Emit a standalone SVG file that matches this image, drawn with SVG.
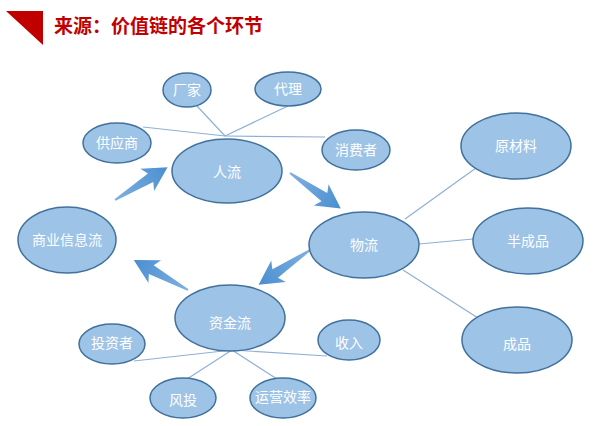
<svg xmlns="http://www.w3.org/2000/svg" xmlns:xlink="http://www.w3.org/1999/xlink" width="599" height="426" viewBox="0 0 599 426">
<style>
.n ellipse{fill:#9dc3e6;stroke:#41719c;stroke-width:1.5}
.n text{fill:#fff;font-family:"Noto Sans CJK SC","Noto Sans",sans-serif;font-size:14px;text-anchor:middle;dominant-baseline:central}
.c line{stroke:#8fb0d6;stroke-width:1.2}
.arr{fill:url(#g)}
.title{fill:#c00000;font-family:"Noto Sans CJK SC",sans-serif;font-size:19px;font-weight:bold}
</style>
<defs>
<linearGradient id="g" x1="0" y1="0" x2="1" y2="0">
<stop offset="0" stop-color="#7fb0e0"/>
<stop offset="1" stop-color="#4a8fd0"/>
</linearGradient>
<path id="ar" d="M0,-1 L42,-5 L38,-13 L62,0 L38,13 L42,5 L0,1 Z"/>
</defs>
<rect width="599" height="426" fill="#fff"/>
<polygon points="6,11 43,11 43,45" fill="#c00000"/>
<text class="title" x="54" y="33">来源：价值链的各个环节</text>
<g id="connectors" class="c">
<line x1="225" y1="136" x2="197" y2="106"/>
<line x1="225" y1="136" x2="288" y2="106"/>
<line x1="225" y1="136" x2="143" y2="127"/>
<line x1="225" y1="136" x2="325" y2="137"/>
<line x1="405" y1="219" x2="476" y2="168"/>
<line x1="419" y1="244" x2="473" y2="239"/>
<line x1="403" y1="270" x2="478" y2="318"/>
<line x1="232" y1="350" x2="134" y2="361"/>
<line x1="232" y1="350" x2="327" y2="356"/>
<line x1="232" y1="350" x2="187" y2="379"/>
<line x1="232" y1="350" x2="277" y2="379"/>
<use class="arr" xlink:href="#ar" transform="translate(115,200) rotate(-32)"/>
<use class="arr" xlink:href="#ar" transform="translate(290,173) rotate(35)"/>
<use class="arr" xlink:href="#ar" transform="translate(310,250) rotate(146)"/>
<use class="arr" xlink:href="#ar" transform="translate(188,290) rotate(209)"/>
</g>
<g id="renliu" class="n"><ellipse cx="227" cy="171" rx="55" ry="32"/><text x="227" y="171">人流</text></g>
<g id="changjia" class="n"><ellipse cx="187" cy="90" rx="24" ry="17"/><text x="187" y="89">厂家</text></g>
<g id="daili" class="n"><ellipse cx="288" cy="89" rx="33" ry="17"/><text x="288" y="88">代理</text></g>
<g id="gongyingshang" class="n"><ellipse cx="117" cy="143" rx="34" ry="20"/><text x="117" y="142">供应商</text></g>
<g id="xiaofeizhe" class="n"><ellipse cx="356" cy="150" rx="34" ry="20"/><text x="356" y="149">消费者</text></g>
<g id="shangye" class="n"><ellipse cx="67" cy="240" rx="49" ry="33"/><text x="67" y="239">商业信息流</text></g>
<g id="wuliu" class="n"><ellipse cx="364" cy="245" rx="55" ry="33"/><text x="364" y="244">物流</text></g>
<g id="yuancailiao" class="n"><ellipse cx="516" cy="146" rx="55" ry="33"/><text x="516" y="145">原材料</text></g>
<g id="banchengpin" class="n"><ellipse cx="528" cy="241" rx="55" ry="33"/><text x="528" y="240">半成品</text></g>
<g id="chengpin" class="n"><ellipse cx="517" cy="340" rx="55" ry="33"/><text x="517" y="343">成品</text></g>
<g id="zijinliu" class="n"><ellipse cx="230" cy="318" rx="55" ry="33"/><text x="230" y="322">资金流</text></g>
<g id="touzizhe" class="n"><ellipse cx="112" cy="344" rx="33" ry="20"/><text x="112" y="342">投资者</text></g>
<g id="shouru" class="n"><ellipse cx="349" cy="340" rx="31" ry="20"/><text x="349" y="342">收入</text></g>
<g id="fengtou" class="n"><ellipse cx="183" cy="398" rx="33" ry="20"/><text x="183" y="399">风投</text></g>
<g id="yunying" class="n"><ellipse cx="283" cy="398" rx="33" ry="20"/><text x="283" y="396">运营效率</text></g>
</svg>
